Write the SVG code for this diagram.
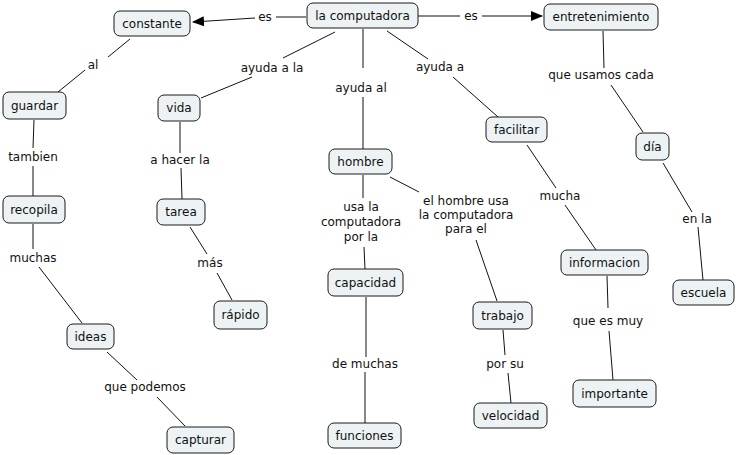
<svg xmlns="http://www.w3.org/2000/svg" width="736" height="455" viewBox="0 0 736 455">
<style>
.n rect{fill:#edf3f5;stroke:#1a1a1a;stroke-width:1}
text{font-family:"DejaVu Sans",Verdana,sans-serif;font-size:12px;fill:#111;text-anchor:middle}
.c line{stroke:#111;stroke-width:1}
</style>
<defs>
<marker id="ah" markerWidth="12" markerHeight="10" refX="11" refY="5" orient="auto" markerUnits="userSpaceOnUse">
<path d="M0,0 L12,5 L0,10 Z" fill="#000"/>
</marker>
</defs>
<rect width="736" height="455" fill="#fff"/>
<g id="connectors" class="c">
<line x1="306" y1="17" x2="276" y2="17"/>
<line x1="255" y1="18" x2="193" y2="22" marker-end="url(#ah)"/>
<line x1="418" y1="16" x2="460" y2="16"/>
<line x1="482" y1="16" x2="542" y2="16" marker-end="url(#ah)"/>
<line x1="130" y1="39" x2="108" y2="57"/>
<line x1="85" y1="70" x2="58" y2="92"/>
<line x1="335" y1="32" x2="283" y2="58"/>
<line x1="252" y1="77" x2="201" y2="98"/>
<line x1="363" y1="29" x2="363" y2="68"/>
<line x1="363" y1="97" x2="363" y2="149"/>
<line x1="387" y1="31" x2="428" y2="59"/>
<line x1="453" y1="77" x2="498" y2="117"/>
<line x1="603" y1="31" x2="604" y2="68"/>
<line x1="611" y1="85" x2="643" y2="132"/>
<line x1="663" y1="163" x2="692" y2="212"/>
<line x1="698" y1="227" x2="703" y2="280"/>
<line x1="527" y1="145" x2="556" y2="188"/>
<line x1="565" y1="205" x2="596" y2="250"/>
<line x1="34" y1="120" x2="33" y2="148"/>
<line x1="33" y1="166" x2="33" y2="196"/>
<line x1="180" y1="122" x2="180" y2="153"/>
<line x1="181" y1="168" x2="182" y2="199"/>
<line x1="33" y1="224" x2="33" y2="249"/>
<line x1="39" y1="267" x2="82" y2="323"/>
<line x1="107" y1="352" x2="137" y2="380"/>
<line x1="157" y1="397" x2="185" y2="426"/>
<line x1="190" y1="227" x2="207" y2="254"/>
<line x1="217" y1="273" x2="232" y2="300"/>
<line x1="363" y1="175" x2="363" y2="198"/>
<line x1="364" y1="247" x2="365" y2="269"/>
<line x1="390" y1="177" x2="419" y2="192"/>
<line x1="476" y1="240" x2="497" y2="301"/>
<line x1="366" y1="297" x2="366" y2="357"/>
<line x1="365" y1="372" x2="365" y2="423"/>
<line x1="503" y1="330" x2="505" y2="355"/>
<line x1="508" y1="373" x2="511" y2="403"/>
<line x1="607" y1="276" x2="608" y2="308"/>
<line x1="609" y1="331" x2="613" y2="380"/>
</g>
<g id="labels">
<text x="265" y="21">es</text>
<text x="471" y="20">es</text>
<text x="93" y="69">al</text>
<text x="272" y="72">ayuda a la</text>
<text x="361" y="92">ayuda al</text>
<text x="440" y="71">ayuda a</text>
<text x="601" y="79">que usamos cada</text>
<text x="33" y="161">tambien</text>
<text x="180" y="164">a hacer la</text>
<text x="361" y="211">usa la</text>
<text x="361" y="226">computadora</text>
<text x="361" y="241">por la</text>
<text x="466" y="205">el hombre usa</text>
<text x="466" y="219">la computadora</text>
<text x="466" y="233">para el</text>
<text x="560" y="200">mucha</text>
<text x="697" y="223">en la</text>
<text x="33" y="262">muchas</text>
<text x="210" y="267">más</text>
<text x="608" y="325">que es muy</text>
<text x="365" y="368">de muchas</text>
<text x="145" y="391">que podemos</text>
<text x="505" y="368">por su</text>
</g>
<g id="la-computadora" class="n"><rect x="307" y="3" width="111" height="25" rx="6"/><text x="362.5" y="19.5">la computadora</text></g>
<g id="constante" class="n"><rect x="114" y="11" width="76" height="25" rx="6"/><text x="152" y="27.5">constante</text></g>
<g id="entretenimiento" class="n"><rect x="544" y="4" width="114" height="26" rx="6"/><text x="601" y="21">entretenimiento</text></g>
<g id="guardar" class="n"><rect x="3" y="92" width="63" height="27" rx="6"/><text x="34.5" y="109.5">guardar</text></g>
<g id="vida" class="n"><rect x="158" y="95" width="42" height="26" rx="6"/><text x="179" y="112">vida</text></g>
<g id="hombre" class="n"><rect x="329" y="149" width="63" height="25" rx="6"/><text x="360.5" y="165.5">hombre</text></g>
<g id="facilitar" class="n"><rect x="486" y="117" width="61" height="25" rx="6"/><text x="516.5" y="133.5">facilitar</text></g>
<g id="dia" class="n"><rect x="636" y="133" width="33" height="27" rx="6"/><text x="652.5" y="150.5">día</text></g>
<g id="recopila" class="n"><rect x="3" y="196" width="62" height="27" rx="6"/><text x="34" y="213.5">recopila</text></g>
<g id="tarea" class="n"><rect x="157" y="199" width="48" height="26" rx="6"/><text x="181" y="216">tarea</text></g>
<g id="informacion" class="n"><rect x="561" y="250" width="87" height="25" rx="6"/><text x="604.5" y="266.5">informacion</text></g>
<g id="escuela" class="n"><rect x="673" y="280" width="61" height="25" rx="6"/><text x="703.5" y="296.5">escuela</text></g>
<g id="capacidad" class="n"><rect x="328" y="269" width="75" height="27" rx="6"/><text x="365.5" y="286.5">capacidad</text></g>
<g id="rapido" class="n"><rect x="214" y="301" width="53" height="28" rx="6"/><text x="240.5" y="319">rápido</text></g>
<g id="trabajo" class="n"><rect x="473" y="302" width="59" height="27" rx="6"/><text x="502.5" y="319.5">trabajo</text></g>
<g id="ideas" class="n"><rect x="67" y="324" width="47" height="25" rx="6"/><text x="90.5" y="340.5">ideas</text></g>
<g id="importante" class="n"><rect x="573" y="380" width="83" height="27" rx="6"/><text x="614.5" y="397.5">importante</text></g>
<g id="velocidad" class="n"><rect x="474" y="403" width="73" height="25" rx="6"/><text x="510.5" y="419.5">velocidad</text></g>
<g id="funciones" class="n"><rect x="328" y="423" width="73" height="25" rx="6"/><text x="364.5" y="439.5">funciones</text></g>
<g id="capturar" class="n"><rect x="167" y="427" width="67" height="26" rx="6"/><text x="200.5" y="444">capturar</text></g>
</svg>
